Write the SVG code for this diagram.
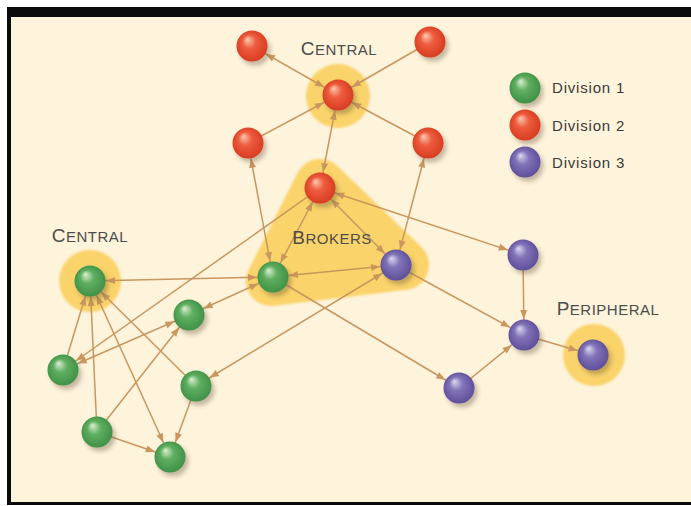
<svg xmlns="http://www.w3.org/2000/svg" width="691" height="506" viewBox="0 0 691 506">
<defs>
<style>
.e{stroke:#C9975E;stroke-width:1.5;fill:none}
.b{marker-start:url(#as);marker-end:url(#ae)}
.o{marker-end:url(#ae)}
.lbl{font-family:"Liberation Sans",Arial,sans-serif;fill:#4d4d4d;letter-spacing:0.5px}
.big{font-size:19px}
.sm{font-size:15px}
.leg{font-family:"Liberation Sans",Arial,sans-serif;font-size:15px;fill:#3a3a3a;letter-spacing:0.8px}
.halo{fill:#FAD36A}
.r{fill:url(#gr)}
.g{fill:url(#gg)}
.p{fill:url(#gp)}
.n{filter:url(#sh)}
</style>
<radialGradient id="gr" cx="0.5" cy="0.5" r="0.55" fx="0.35" fy="0.28">
<stop offset="0" stop-color="#FBCBB2"/><stop offset="0.4" stop-color="#EE5C3E"/><stop offset="1" stop-color="#D6391F"/>
</radialGradient>
<radialGradient id="gg" cx="0.5" cy="0.5" r="0.55" fx="0.35" fy="0.28">
<stop offset="0" stop-color="#DCEFD3"/><stop offset="0.4" stop-color="#5FAE60"/><stop offset="1" stop-color="#3D8E46"/>
</radialGradient>
<radialGradient id="gp" cx="0.5" cy="0.5" r="0.55" fx="0.35" fy="0.28">
<stop offset="0" stop-color="#DED8F0"/><stop offset="0.4" stop-color="#8173B8"/><stop offset="1" stop-color="#5B4B97"/>
</radialGradient>
<filter id="sh" x="-50%" y="-50%" width="200%" height="200%">
<feDropShadow dx="3" dy="4" stdDeviation="2" flood-color="#5a4a30" flood-opacity="0.35"/>
</filter>
<filter id="soft" x="-20%" y="-20%" width="140%" height="140%">
<feGaussianBlur stdDeviation="1"/>
</filter>
<marker id="ae" markerUnits="userSpaceOnUse" markerWidth="30" markerHeight="10" refX="25" refY="0" orient="auto" overflow="visible">
<path d="M0,-3.5 L9,0 L0,3.5 z" fill="#C9975E"/>
</marker>
<marker id="as" markerUnits="userSpaceOnUse" markerWidth="30" markerHeight="10" refX="25" refY="0" orient="auto-start-reverse" overflow="visible">
<path d="M0,-3.5 L9,0 L0,3.5 z" fill="#C9975E"/>
</marker>
</defs>

<rect x="0" y="0" width="691" height="506" fill="#ffffff"/>
<rect x="7" y="7" width="684" height="498" fill="#0a0a0a"/>
<rect x="11" y="17" width="680" height="485" fill="#FEF3DB"/>

<g id="halos" filter="url(#soft)">
<circle class="halo" cx="338" cy="96" r="32"/>
<circle class="halo" cx="90" cy="281" r="31"/>
<circle class="halo" cx="594" cy="355" r="31"/>
<polygon id="brokers-area" points="320,184 271,281 404,265" fill="#FAD36A" stroke="#FAD36A" stroke-width="50" stroke-linejoin="round"/>
</g>

<g id="connectors">
<line class="e b" x1="338" y1="95" x2="252" y2="46"/>
<line class="e o" x1="430" y1="42" x2="338" y2="95"/>
<line class="e o" x1="248" y1="143" x2="338" y2="95"/>
<line class="e o" x1="428" y1="143" x2="338" y2="95"/>
<line class="e b" x1="338" y1="95" x2="320" y2="188"/>
<line class="e b" x1="248" y1="143" x2="273" y2="277"/>
<line class="e b" x1="428" y1="143" x2="396" y2="265"/>
<line class="e b" x1="320" y1="188" x2="273" y2="277"/>
<line class="e b" x1="320" y1="188" x2="396" y2="265"/>
<line class="e b" x1="273" y1="277" x2="396" y2="265"/>
<line class="e b" x1="320" y1="188" x2="523" y2="255"/>
<line class="e o" x1="320" y1="188" x2="63" y2="370"/>
<line class="e b" x1="90" y1="281" x2="273" y2="277"/>
<line class="e b" x1="189" y1="315" x2="273" y2="277"/>
<line class="e b" x1="189" y1="315" x2="63" y2="370"/>
<line class="e o" x1="97" y1="432" x2="189" y2="315"/>
<line class="e o" x1="63" y1="370" x2="90" y2="281"/>
<line class="e o" x1="97" y1="432" x2="90" y2="281"/>
<line class="e b" x1="90" y1="281" x2="170" y2="457"/>
<line class="e o" x1="196" y1="386" x2="90" y2="281"/>
<line class="e o" x1="196" y1="386" x2="170" y2="457"/>
<line class="e o" x1="97" y1="432" x2="170" y2="457"/>
<line class="e b" x1="396" y1="265" x2="196" y2="386"/>
<line class="e o" x1="273" y1="277" x2="459" y2="388"/>
<line class="e o" x1="396" y1="265" x2="524" y2="335"/>
<line class="e o" x1="523" y1="255" x2="524" y2="335"/>
<line class="e o" x1="459" y1="388" x2="524" y2="335"/>
<line class="e o" x1="524" y1="335" x2="593" y2="355"/>
</g>

<g id="nodes" class="n">
<g id="red-1"><circle class="r" cx="252" cy="46" r="15.5"/></g>
<g id="red-2"><circle class="r" cx="430" cy="42" r="15.5"/></g>
<g id="red-central"><circle class="r" cx="338" cy="95" r="15.5"/></g>
<g id="red-3"><circle class="r" cx="248" cy="143" r="15.5"/></g>
<g id="red-4"><circle class="r" cx="428" cy="143" r="15.5"/></g>
<g id="red-broker"><circle class="r" cx="320" cy="188" r="15.5"/></g>
<g id="green-broker"><circle class="g" cx="273" cy="277" r="15.5"/></g>
<g id="purple-broker"><circle class="p" cx="396" cy="265" r="15.5"/></g>
<g id="green-central"><circle class="g" cx="90" cy="281" r="15.5"/></g>
<g id="green-2"><circle class="g" cx="189" cy="315" r="15.5"/></g>
<g id="green-3"><circle class="g" cx="63" cy="370" r="15.5"/></g>
<g id="green-4"><circle class="g" cx="196" cy="386" r="15.5"/></g>
<g id="green-5"><circle class="g" cx="97" cy="432" r="15.5"/></g>
<g id="green-6"><circle class="g" cx="170" cy="457" r="15.5"/></g>
<g id="purple-1"><circle class="p" cx="523" cy="255" r="15.5"/></g>
<g id="purple-2"><circle class="p" cx="524" cy="335" r="15.5"/></g>
<g id="purple-3"><circle class="p" cx="459" cy="388" r="15.5"/></g>
<g id="purple-peripheral"><circle class="p" cx="593" cy="355" r="15.5"/></g>
</g>

<g id="labels">
<text class="lbl" x="339" y="55" text-anchor="middle"><tspan class="big">C</tspan><tspan class="sm">ENTRAL</tspan></text>
<text class="lbl" x="90" y="242" text-anchor="middle"><tspan class="big">C</tspan><tspan class="sm">ENTRAL</tspan></text>
<text class="lbl" x="332" y="244" text-anchor="middle"><tspan class="big">B</tspan><tspan class="sm">ROKERS</tspan></text>
<text class="lbl" x="608" y="315" text-anchor="middle"><tspan class="big">P</tspan><tspan class="sm">ERIPHERAL</tspan></text>
</g>

<g id="legend">
<g id="legend-1"><circle class="g n" cx="525" cy="88" r="15.5"/><text class="leg" x="552" y="93">Division 1</text></g>
<g id="legend-2"><circle class="r n" cx="525" cy="125" r="15.5"/><text class="leg" x="552" y="131">Division 2</text></g>
<g id="legend-3"><circle class="p n" cx="525" cy="162" r="15.5"/><text class="leg" x="552" y="168">Division 3</text></g>
</g>
</svg>
